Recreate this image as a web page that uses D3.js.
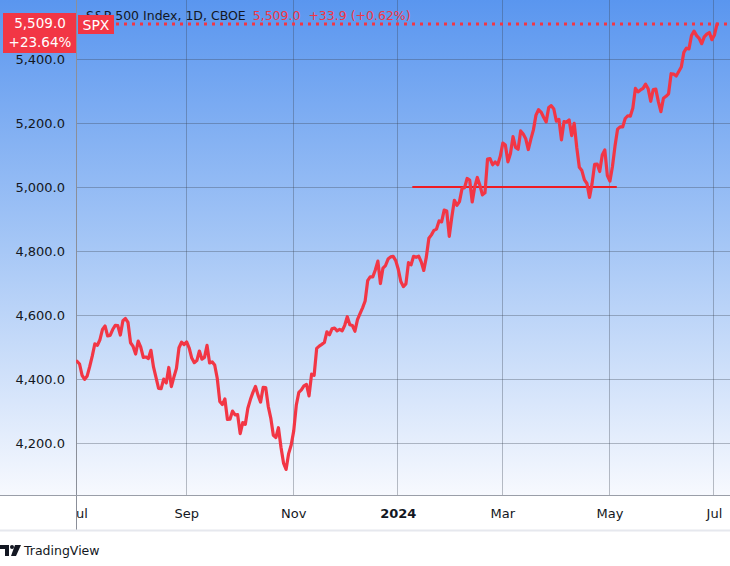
<!DOCTYPE html>
<html><head><meta charset="utf-8">
<script src="https://cdn.jsdelivr.net/npm/d3@7"></script>
<style>
html,body{margin:0;padding:0;background:#fff;}
svg{display:block;font-family:"DejaVu Sans",sans-serif;}
</style></head>
<body><svg id="c" width="730" height="566"></svg>
<script>
// Daily closes, S&P 500 (SPX), Jul 3 2023 – Jul 2 2024
const jul23 = [4455.59,4446.82,4411.59,4398.95,4409.53,4439.26,4472.16,4510.04,4505.42,4522.79,4554.98,4565.72,4534.87,4536.34,4554.64,4567.46,4566.75,4537.41,4582.23,4588.96];
const aug23 = [4576.73,4513.39,4501.89,4478.03,4518.44,4499.38,4467.71,4468.83,4464.05,4489.72,4437.86,4404.33,4370.36,4369.71,4399.77,4387.55,4436.01,4376.31,4405.71,4433.31,4497.63,4514.87,4507.66];
const sep23 = [4515.77,4496.83,4465.48,4451.14,4457.49,4487.46,4461.90,4467.44,4505.10,4450.32,4453.53,4443.95,4402.20,4330.00,4320.06,4337.44,4273.53,4274.51,4299.70,4288.05];
const oct23 = [4288.39,4229.45,4263.75,4258.19,4308.50,4335.66,4358.24,4376.95,4349.61,4327.78,4373.63,4373.20,4314.60,4278.00,4224.16,4217.04,4247.68,4186.77,4137.23,4117.37,4166.82,4193.80];
const nov23 = [4237.86,4317.78,4358.34,4365.98,4378.38,4382.78,4347.35,4415.24,4411.55,4495.70,4502.88,4508.24,4514.02,4547.38,4538.19,4556.62,4559.34,4550.43,4554.89,4550.58,4567.80];
const dec23 = [4594.63,4569.78,4567.18,4549.34,4585.59,4604.37,4622.44,4643.70,4707.09,4719.55,4719.19,4740.56,4768.37,4698.35,4746.75,4754.63,4774.75,4781.58,4783.35,4769.83];
const jan24 = [4742.83,4704.81,4688.68,4697.24,4763.54,4756.50,4783.45,4780.24,4783.83,4765.98,4739.21,4780.94,4839.81,4850.43,4864.60,4868.55,4894.16,4890.97,4927.93,4924.97,4845.65];
const feb24 = [4906.19,4958.61,4942.81,4954.23,4995.06,4997.91,5026.61,5021.84,4953.17,5000.62,5029.73,5005.57,4975.51,4981.80,5087.03,5088.80,5069.53,5078.18,5069.76,5096.27];
const mar24 = [5137.08,5130.95,5078.65,5104.76,5157.36,5123.69,5117.94,5175.27,5165.31,5150.48,5117.09,5149.42,5178.51,5224.62,5241.53,5234.18,5218.19,5203.58,5248.49,5254.35];
const apr24 = [5243.77,5205.81,5211.49,5147.21,5204.34,5202.39,5209.91,5160.64,5199.06,5123.41,5061.82,5051.41,5022.21,5011.12,4967.23,5010.60,5070.55,5071.63,5048.42,5099.96,5116.17,5035.69];
const may24 = [5018.39,5064.20,5127.79,5180.74,5187.70,5187.67,5214.08,5222.68,5221.42,5246.68,5308.15,5297.10,5303.27,5308.13,5321.41,5307.01,5267.84,5304.72,5306.04,5266.95,5235.48,5277.51];
const jun24 = [5283.40,5291.34,5354.03,5352.96,5346.99,5360.79,5375.32,5421.03,5433.74,5431.60,5473.23,5487.03,5473.17,5464.62,5447.87,5469.30,5477.90,5482.87,5460.48];
const jul24 = [5475.09,5509.01];

// time axis ticks (trading-day index of month start)
const tickLabels = ["Jul","Sep","Nov","2024","Mar","May","Jul"];
const tickIndex  = [0,43,85,126,167,209,250];
const tickBold   = [false,false,false,true,false,false,false];
// price axis ticks
const yTicks = [4200,4400,4600,4800,5000,5200,5400];
// horizontal trend line drawn on chart (index range, level)
const trendFrom = 131.5, trendTo = 211.7, trendLevel = 5000;
// header info
const lastPrice = "5,509.0", pctYear = "+23.64%", symbol = "SPX";
const legendName = "S&P 500 Index, 1D, CBOE";
const legendVals = "5,509.0  +33.9 (+0.62%)";

const closes = [].concat(jul23,aug23,sep23,oct23,nov23,dec23,jan24,feb24,mar24,apr24,may24,jun24,jul24);
const last = closes[closes.length-1];

const W = 730, H = 566, plotL = 76, plotB = 495, axisB = 530;
const svg = d3.select("#c");
const x = d3.scaleLinear().domain([0, 251]).range([77, 717]);
const y = d3.scaleLinear().domain([4037.5, 5584.4]).range([plotB, 0]);
const RED = "#f23645";

const defs = svg.append("defs");
const grad = defs.append("linearGradient").attr("id","bg").attr("x1",0).attr("y1",0).attr("x2",0).attr("y2",1);
grad.append("stop").attr("offset","0%").attr("stop-color","#5a96ef");
grad.append("stop").attr("offset","50%").attr("stop-color","#a6c7f6");
grad.append("stop").attr("offset","100%").attr("stop-color","#f7f9fe");
defs.append("clipPath").attr("id","tclip").append("rect").attr("x",77).attr("y",plotB).attr("width",W-77).attr("height",axisB-plotB);
defs.append("clipPath").attr("id","pclip").append("rect").attr("x",plotL).attr("y",0).attr("width",W-plotL).attr("height",plotB);

svg.append("rect").attr("width",W).attr("height",H).attr("fill","#fff");
svg.append("rect").attr("x",0).attr("y",0).attr("width",W).attr("height",plotB).attr("fill","url(#bg)");

// grid
const grid = svg.append("g").attr("stroke","rgba(60,68,82,0.34)").attr("stroke-width",1);
yTicks.forEach(v=>{
  const yy = Math.round(y(v))+0.5;
  grid.append("line").attr("x1",plotL).attr("x2",W).attr("y1",yy).attr("y2",yy);
});
tickIndex.forEach((t,i)=>{
  if(i===0) return;
  const xx = Math.round(x(t))-0.5;
  grid.append("line").attr("x1",xx).attr("x2",xx).attr("y1",0).attr("y2",plotB);
});

// axes lines
svg.append("line").attr("x1",plotL+0.5).attr("x2",plotL+0.5).attr("y1",0).attr("y2",axisB).attr("stroke","#8b8f99").attr("stroke-width",1);
svg.append("line").attr("x1",0).attr("x2",W).attr("y1",plotB+0.5).attr("y2",plotB+0.5).attr("stroke","#9a9ea8").attr("stroke-width",1);
svg.append("line").attr("x1",0).attr("x2",W).attr("y1",axisB+0.5).attr("y2",axisB+0.5).attr("stroke","#e6e8ee").attr("stroke-width",2);

// y labels
svg.append("g").selectAll("text").data(yTicks).join("text")
  .attr("x",65).attr("y",d=>y(d)).attr("dy","0.36em").attr("text-anchor","end")
  .attr("font-size",13).attr("fill","#131722").text(d=>d3.format(",.1f")(d));

// time labels
svg.append("g").attr("clip-path","url(#tclip)").selectAll("text").data(tickLabels).join("text")
  .attr("x",(d,i)=> i===0 ? x(tickIndex[i])+3 : x(tickIndex[i]))
  .attr("y",513).attr("dy","0.36em").attr("text-anchor","middle")
  .attr("font-size",13).attr("font-weight",(d,i)=>tickBold[i]?"bold":"normal")
  .attr("fill","#131722").text(d=>d);

// trend line
svg.append("line").attr("x1",x(trendFrom)).attr("x2",x(trendTo)).attr("y1",y(trendLevel)).attr("y2",y(trendLevel))
  .attr("stroke","#ee1c24").attr("stroke-width",2);

// price line
const line = d3.line().x((d,i)=>x(i)).y(d=>y(d));
svg.append("path").datum(closes).attr("clip-path","url(#pclip)").attr("d",line)
  .attr("fill","none").attr("stroke",RED).attr("stroke-width",3.2)
  .attr("stroke-linejoin","round").attr("stroke-linecap","round");

// last price dotted line
svg.append("line").attr("x1",116).attr("x2",W).attr("y1",y(last)).attr("y2",y(last))
  .attr("stroke",RED).attr("stroke-width",3).attr("stroke-dasharray","3,5");

// legend
const lg = svg.append("text").attr("x",86).attr("y",15.5).attr("dy","0.36em").attr("font-size",12.5);
lg.append("tspan").attr("fill","#131722").text(legendName);
lg.append("tspan").attr("fill",RED).attr("dx",7).attr("xml:space","preserve").text(legendVals);

// SPX tag
svg.append("rect").attr("x",78).attr("y",15).attr("width",36).attr("height",19).attr("fill",RED);
svg.append("text").attr("x",96).attr("y",24.5).attr("dy","0.36em").attr("text-anchor","middle").attr("font-size",14).attr("fill","#fff").text(symbol);

// price box
svg.append("rect").attr("x",3).attr("y",13).attr("width",73).attr("height",40).attr("fill",RED);
svg.append("text").attr("x",40).attr("y",23.5).attr("dy","0.36em").attr("text-anchor","middle").attr("font-size",13.5).attr("fill","#fff").text(lastPrice);
svg.append("text").attr("x",40).attr("y",42.5).attr("dy","0.36em").attr("text-anchor","middle").attr("font-size",13.5).attr("fill","#fff").text(pctYear);

// TradingView logo
const logo = svg.append("g").attr("fill","#131722");
logo.append("path").attr("d","M0,545 h9 v11 h-4 v-7 h-5 z");
logo.append("circle").attr("cx",12).attr("cy",547).attr("r",2);
logo.append("path").attr("d","M15,545 h6 l-5,11 h-5 z");
svg.append("text").attr("x",24).attr("y",550.5).attr("dy","0.36em").attr("font-size",12.5).attr("fill","#131722").text("TradingView");
</script></body></html>
